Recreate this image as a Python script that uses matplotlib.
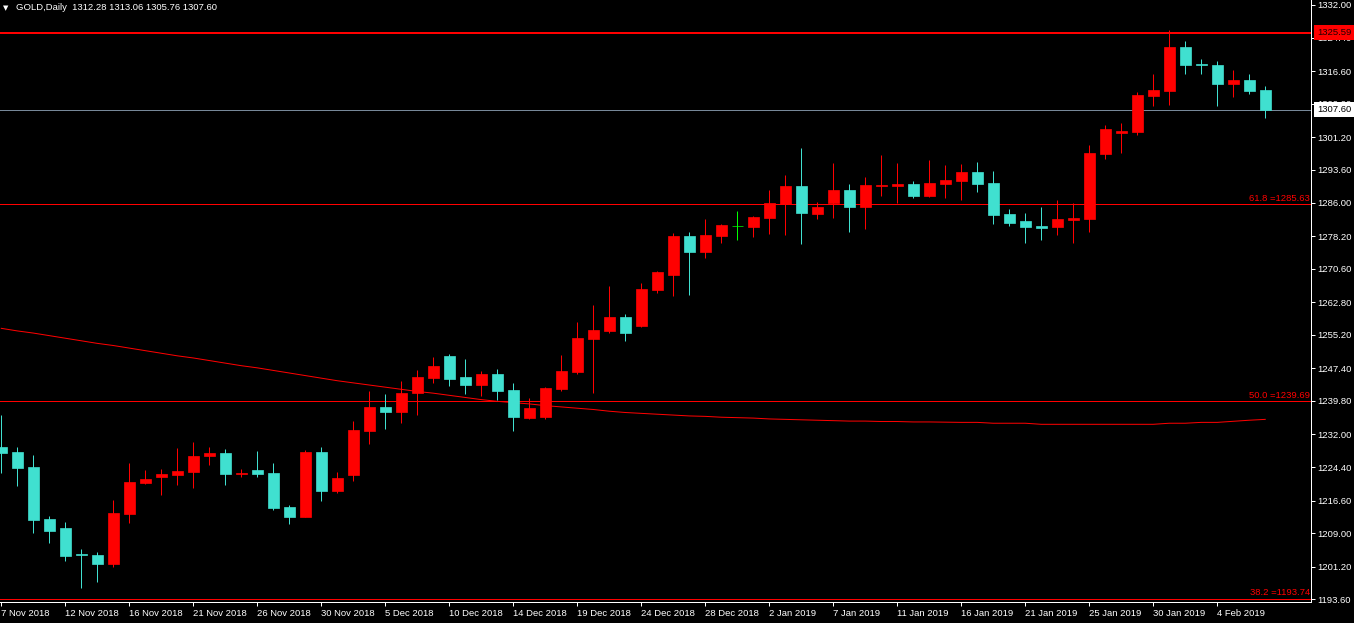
"""GOLD daily candlestick chart in MetaTrader style, with fib levels and MA."""

import matplotlib
matplotlib.use("Agg")
import matplotlib.pyplot as plt
import matplotlib.transforms as mtransforms
import numpy as np

# --- data --------------------------------------------------------------------
opens = [1229.13, 1227.90, 1224.41, 1212.30, 1210.20, 1204.08, 1203.85, 1201.89, 1213.53, 1220.68,
         1222.15, 1222.61, 1223.31, 1227.04, 1227.67, 1222.85, 1223.71, 1223.01, 1215.09, 1212.83,
         1227.90, 1218.89, 1222.61, 1232.86, 1238.38, 1237.29, 1241.57, 1245.21, 1250.26, 1245.37,
         1243.57, 1246.06, 1242.34, 1235.89, 1236.05, 1242.64, 1246.53, 1254.21, 1256.08, 1259.34,
         1257.31, 1265.70, 1269.12, 1278.20, 1274.47, 1278.20, 1280.46, 1280.30, 1282.40, 1285.66,
         1289.84, 1283.33, 1285.89, 1288.91, 1284.96, 1289.92, 1289.84, 1290.31, 1287.52, 1290.31,
         1291.01, 1293.11, 1290.55, 1283.33, 1281.70, 1280.53, 1280.30, 1281.93, 1282.16, 1297.30,
         1302.19, 1302.42, 1310.81, 1311.97, 1322.22, 1318.26, 1318.03, 1313.60, 1314.53, 1312.28]

highs = [1236.52, 1229.13, 1227.20, 1213.00, 1211.60, 1205.31, 1204.61, 1216.72, 1225.34, 1223.71,
         1223.94, 1228.90, 1230.23, 1229.07, 1228.60, 1223.94, 1228.13, 1225.34, 1215.56, 1228.30,
         1229.07, 1223.24, 1235.19, 1242.10, 1241.41, 1244.44, 1247.00, 1250.03, 1250.72, 1249.56,
         1246.76, 1247.23, 1243.97, 1240.47, 1243.04, 1250.56, 1258.17, 1262.13, 1266.56, 1260.04,
         1267.25, 1270.05, 1278.90, 1279.13, 1282.16, 1280.99, 1284.03, 1282.86, 1288.91, 1292.41,
         1298.70, 1286.12, 1295.20, 1290.31, 1291.94, 1297.07, 1295.20, 1291.01, 1295.90, 1294.74,
         1294.97, 1295.44, 1293.34, 1284.49, 1283.56, 1284.96, 1286.59, 1285.89, 1299.40, 1304.05,
         1304.52, 1311.74, 1315.93, 1326.18, 1323.62, 1319.42, 1318.96, 1316.86, 1315.93, 1313.06]

lows = [1223.08, 1220.05, 1209.11, 1206.78, 1202.59, 1196.30, 1197.70, 1201.19, 1211.44, 1220.45,
        1217.89, 1220.29, 1219.59, 1224.95, 1220.22, 1222.15, 1222.15, 1214.46, 1211.20, 1212.65,
        1216.56, 1218.42, 1221.22, 1229.83, 1233.33, 1234.73, 1236.52, 1244.04, 1243.34, 1241.48,
        1241.01, 1240.08, 1232.86, 1235.70, 1235.58, 1242.17, 1246.13, 1241.71, 1255.61, 1253.82,
        1257.12, 1264.93, 1264.23, 1264.46, 1273.08, 1276.57, 1277.27, 1277.97, 1278.67, 1278.43,
        1276.34, 1282.16, 1282.40, 1279.13, 1279.83, 1287.52, 1285.89, 1287.05, 1287.40, 1287.05,
        1286.59, 1288.45, 1280.99, 1280.53, 1276.57, 1277.27, 1278.43, 1276.57, 1279.13, 1296.14,
        1297.53, 1301.72, 1308.48, 1308.71, 1315.93, 1315.93, 1308.48, 1310.57, 1311.27, 1305.76]

closes = [1227.74, 1224.25, 1212.14, 1209.57, 1203.75, 1203.91, 1201.89, 1213.70, 1220.91, 1221.61,
          1222.85, 1223.48, 1227.04, 1227.67, 1222.85, 1223.01, 1222.85, 1214.93, 1212.83, 1227.90,
          1218.89, 1221.84, 1233.02, 1238.38, 1237.29, 1241.64, 1245.37, 1247.93, 1244.97, 1243.57,
          1246.06, 1242.17, 1236.12, 1238.14, 1242.80, 1246.76, 1254.45, 1256.31, 1259.34, 1255.68,
          1265.86, 1269.82, 1278.20, 1274.47, 1278.43, 1280.76, 1280.46, 1282.63, 1285.89, 1289.84,
          1283.56, 1284.96, 1288.91, 1284.96, 1290.08, 1290.08, 1290.31, 1287.52, 1290.55, 1291.24,
          1293.11, 1290.31, 1283.09, 1281.23, 1280.30, 1280.06, 1282.16, 1282.40, 1297.53, 1303.12,
          1302.66, 1311.04, 1312.20, 1322.22, 1318.03, 1318.03, 1313.60, 1314.53, 1311.97, 1307.60]

ma_values = [1256.7, 1256.1, 1255.6, 1255.0, 1254.4, 1253.8, 1253.2, 1252.7, 1252.1, 1251.5,
             1250.9, 1250.3, 1249.8, 1249.2, 1248.6, 1248.0, 1247.5, 1246.9, 1246.3, 1245.7,
             1245.1, 1244.5, 1244.0, 1243.5, 1243.0, 1242.5, 1242.0, 1241.6, 1241.1, 1240.6,
             1240.1, 1239.7, 1239.4, 1239.1, 1238.7, 1238.4, 1238.1, 1237.8, 1237.4, 1237.1,
             1236.9, 1236.7, 1236.5, 1236.3, 1236.2, 1236.0, 1235.9, 1235.8, 1235.6, 1235.5,
             1235.4, 1235.3, 1235.2, 1235.1, 1235.1, 1235.0, 1235.0, 1234.9, 1234.9, 1234.85,
             1234.8, 1234.8, 1234.6, 1234.6, 1234.6, 1234.35, 1234.35, 1234.35, 1234.35, 1234.35,
             1234.35, 1234.35, 1234.35, 1234.6, 1234.6, 1234.8, 1234.8, 1235.05, 1235.3, 1235.5]

date_labels = ["7 Nov 2018", "12 Nov 2018", "16 Nov 2018", "21 Nov 2018", "26 Nov 2018",
               "30 Nov 2018", "5 Dec 2018", "10 Dec 2018", "14 Dec 2018", "19 Dec 2018",
               "24 Dec 2018", "28 Dec 2018", "2 Jan 2019", "7 Jan 2019", "11 Jan 2019",
               "16 Jan 2019", "21 Jan 2019", "25 Jan 2019", "30 Jan 2019", "4 Feb 2019"]

price_ticks = [1332.00, 1324.40, 1316.60, 1309.00, 1301.20, 1293.60, 1286.00, 1278.20, 1270.60,
               1262.80, 1255.20, 1247.40, 1239.80, 1232.00, 1224.40, 1216.60, 1209.00, 1201.20,
               1193.60]

fib_levels = [61.8, 50.0, 38.2]
fib_prices = [1285.63, 1239.69, 1193.74]
resistance = 1325.59
last_price = 1307.60

BULL = "#ff0000"
BEAR = "#40e0d0"
DOJI = "#00ff00"
PX = 0.72  # one pixel in points at dpi 100

plt.rcParams.update({
    "font.family": ["Liberation Sans", "DejaVu Sans"],
    "font.size": 6.8,
})

W, H = 1354, 623
fig = plt.figure(figsize=(W / 100, H / 100), dpi=100, facecolor="black")
ax = fig.add_axes([0, 21 / H, 1311 / W, 602 / H], facecolor="black")

o = np.array(opens)
c = np.array(closes)
x = np.arange(len(o))
colors = np.where(c > o, BULL, np.where(c < o, BEAR, DOJI))

# reference lines first, candles on top
for p in fib_prices:
    ax.axhline(p, color=BULL, lw=PX, zorder=1)
ax.axhline(resistance, color=BULL, lw=2 * PX, zorder=1)
ax.axhline(last_price, color="#778899", lw=PX, zorder=1)
ax.plot(x, ma_values, color=BULL, lw=PX, zorder=2)

ax.vlines(x, lows, highs, colors=colors, lw=PX, zorder=3)
ax.bar(x, c - o, bottom=o, width=0.66, color=colors, edgecolor=colors,
       linewidth=0.5, zorder=4)

ax.set_xlim(-0.08, 81.86)
ax.set_ylim(1192.97, 1333.16)

# axes frame: only right and bottom, white
for side in ("left", "top"):
    ax.spines[side].set_visible(False)
for side in ("right", "bottom"):
    ax.spines[side].set_color("white")
    ax.spines[side].set_linewidth(PX)

ax.yaxis.tick_right()
ax.set_yticks(price_ticks)
ax.set_yticklabels([f"{v:.2f}" for v in price_ticks])
ax.set_xticks(x[::4])
ax.set_xticklabels(date_labels, ha="left")
ax.tick_params(colors="white", width=PX, length=3, pad=1.5)
ax.tick_params(axis="x", pad=2)

trans = mtransforms.blended_transform_factory(ax.transAxes, ax.transData)

# fibo level labels just above their lines, right aligned
lab_trans = mtransforms.offset_copy(trans, fig=fig, x=-1, y=1.5, units="dots")
for lvl, p in zip(fib_levels, fib_prices):
    ax.text(1.0, p, f"{lvl:.1f} ={p:.2f}", transform=lab_trans, ha="right",
            va="bottom", color=BULL, clip_on=False, zorder=5)

# price boxes on the right scale (they cover the tick labels, as in MT4)
box_trans = mtransforms.offset_copy(trans, fig=fig, x=6, y=0, units="dots")
ax.text(1.0, resistance, f"{resistance:.2f}", transform=box_trans, ha="left",
        va="center", color="#200000", clip_on=False, zorder=6,
        bbox=dict(boxstyle="square,pad=0.3", fc=BULL, ec="none"))
ax.text(1.0, last_price, f"{last_price:.2f}", transform=box_trans, ha="left",
        va="center", color="black", clip_on=False, zorder=6,
        bbox=dict(boxstyle="square,pad=0.3", fc="white", ec="none"))

# header
fig.text(3 / W, 1 - 8 / H, "\u25bc", color="white", fontsize=5,
         family="DejaVu Sans", va="center")
fig.text(16 / W, 1 - 8 / H,
         f"GOLD,Daily  {opens[-1]:.2f} {highs[-1]:.2f} {lows[-1]:.2f} {closes[-1]:.2f}",
         color="white", va="center")

fig.savefig("out.png", dpi=100, facecolor="black")
